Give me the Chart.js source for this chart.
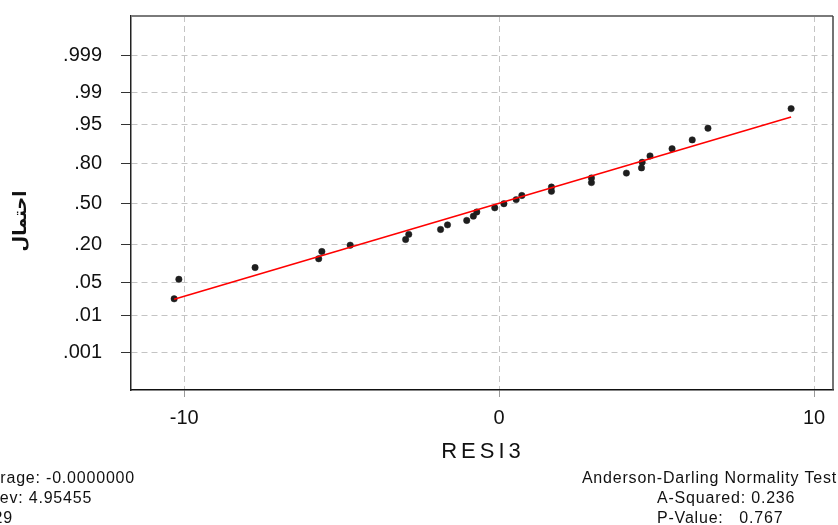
<!DOCTYPE html>
<html>
<head>
<meta charset="utf-8">
<script src="https://cdn.jsdelivr.net/npm/chart.js@4/dist/chart.umd.min.js"></script>
<style>
  html, body { margin: 0; padding: 0; background: #fff; }
  canvas { display: block; }
</style>
</head>
<body>
<canvas id="myChart" width="838" height="525"></canvas>
<script>
// sorted residuals (RESI3) and their plotting probabilities
const residuals = [-10.32, -10.17, -7.75, -5.73, -5.63, -4.73, -2.97, -2.87, -1.86, -1.64,
  -1.03, -0.82, -0.71, -0.14, 0.15, 0.54, 0.72, 1.66, 1.66, 2.93,
  2.93, 4.04, 4.52, 4.54, 4.79, 5.49, 6.13, 6.63, 9.27];
const probabilities = [0.0238, 0.0578, 0.0918, 0.1259, 0.1599, 0.1939, 0.2279, 0.2619, 0.2959, 0.3299,
  0.3639, 0.3980, 0.4320, 0.4660, 0.5000, 0.5340, 0.5680, 0.6020, 0.6361, 0.6701,
  0.7041, 0.7381, 0.7721, 0.8061, 0.8401, 0.8741, 0.9082, 0.9422, 0.9762];

// fitted normal line end points
const fitX = [-10.32, 9.27];
const fitProb = [0.0233, 0.9646];

const xTicks = [-10, 0, 10];
const probTicks = [0.001, 0.01, 0.05, 0.20, 0.50, 0.80, 0.95, 0.99, 0.999];
const probLabels = ['.001', '.01', '.05', '.20', '.50', '.80', '.95', '.99', '.999'];

const statsLeft = ['Average: -0.0000000', 'StDev: 4.95455', 'N: 29'];
const statsRight = ['Anderson-Darling Normality Test', 'A-Squared: 0.236', 'P-Value:   0.767'];

// inverse normal cdf (Acklam)
function probit(p) {
  const a = [-39.69683028665376, 220.9460984245205, -275.9285104469687, 138.3577518672690, -30.66479806614716, 2.506628277459239];
  const b = [-54.47609879822406, 161.5858368580409, -155.6989798598866, 66.80131188771972, -13.28068155288572];
  const c = [-0.007784894002430293, -0.3223964580411365, -2.400758277161838, -2.549732539343734, 4.374664141464968, 2.938163982698783];
  const d = [0.007784695709041462, 0.3224671290700398, 2.445134137142996, 3.754408661907416];
  const pl = 0.02425;
  let q, r;
  if (p < pl) {
    q = Math.sqrt(-2 * Math.log(p));
    return (((((c[0]*q+c[1])*q+c[2])*q+c[3])*q+c[4])*q+c[5]) / ((((d[0]*q+d[1])*q+d[2])*q+d[3])*q+1);
  }
  if (p > 1 - pl) {
    q = Math.sqrt(-2 * Math.log(1 - p));
    return -(((((c[0]*q+c[1])*q+c[2])*q+c[3])*q+c[4])*q+c[5]) / ((((d[0]*q+d[1])*q+d[2])*q+d[3])*q+1);
  }
  q = p - 0.5; r = q * q;
  return (((((a[0]*r+a[1])*r+a[2])*r+a[3])*r+a[4])*r+a[5])*q / (((((b[0]*r+b[1])*r+b[2])*r+b[3])*r+b[4])*r+1);
}

const pointData = residuals.map((x, i) => ({ x: x, y: probit(probabilities[i]) }));
const lineData = fitX.map((x, i) => ({ x: x, y: probit(fitProb[i]) }));
const tickFont = { family: "'Liberation Sans', Arial, sans-serif", size: 20 };

const extras = {
  id: 'extras',
  afterDraw(chart) {
    const ctx = chart.ctx;
    const a = chart.chartArea;
    ctx.save();
    // top and right frame
    ctx.strokeStyle = '#7a7a7a';
    ctx.lineWidth = 2;
    ctx.beginPath();
    ctx.moveTo(a.left, a.top);
    ctx.lineTo(a.right, a.top);
    ctx.stroke();
    ctx.strokeStyle = '#444';
    ctx.lineWidth = 1.5;
    ctx.beginPath();
    ctx.moveTo(a.right, a.top);
    ctx.lineTo(a.right, a.bottom);
    ctx.stroke();

    ctx.fillStyle = '#111';
    // x title
    ctx.font = "22px 'Liberation Sans', Arial, sans-serif";
    ctx.letterSpacing = '4px';
    ctx.textAlign = 'left';
    ctx.textBaseline = 'alphabetic';
    const w = ctx.measureText('RESI3').width - 4;
    ctx.fillText('RESI3', 481 - w / 2, 458);

    // y title
    ctx.letterSpacing = '0px';
    ctx.save();
    ctx.translate(21, 221);
    ctx.rotate(-Math.PI / 2);
    ctx.font = "bold 18px 'DejaVu Sans', sans-serif";
    ctx.textAlign = 'center';
    ctx.textBaseline = 'middle';
    ctx.fillText('احتمال', 0, 0);
    ctx.restore();

    // stats text
    ctx.font = "16px 'Liberation Sans', Arial, sans-serif";
    ctx.letterSpacing = '0.8px';
    const x0 = 135 - ctx.measureText(statsLeft[0]).width;
    statsLeft.forEach((t, i) => ctx.fillText(t, x0, 483 + i * 20));
    ctx.textAlign = 'right';
    ctx.fillText(statsRight[0], 837, 483);
    ctx.textAlign = 'left';
    ctx.fillText(statsRight[1], 657, 503);
    ctx.fillText(statsRight[2], 657, 523);
    ctx.restore();
  }
};

new Chart(document.getElementById('myChart'), {
  type: 'scatter',
  data: {
    datasets: [
      {
        label: 'fit',
        data: lineData,
        showLine: true,
        borderColor: '#ff0000',
        borderWidth: 1.6,
        pointRadius: 0,
        order: 0
      },
      {
        label: 'RESI3',
        data: pointData,
        pointRadius: 3.2,
        pointBackgroundColor: '#1e1e1e',
        pointBorderColor: '#1e1e1e',
        pointBorderWidth: 0.5,
        order: 1
      }
    ]
  },
  options: {
    responsive: false,
    animation: false,
    devicePixelRatio: 1,
    layout: { padding: { left: 0, right: 5, top: 16, bottom: 0 } },
    plugins: {
      legend: { display: false },
      tooltip: { enabled: false }
    },
    scales: {
      x: {
        type: 'linear',
        min: -11.69,
        max: 10.6,
        afterBuildTicks: s => { s.ticks = xTicks.map(v => ({ value: v })); },
        afterFit: s => { s.height = 135; s.paddingLeft = 0; s.paddingRight = 0; },
        ticks: { color: '#111', font: tickFont, padding: 9, maxRotation: 0 },
        grid: { color: '#c4c4c4', tickColor: '#9a9a9a', tickLength: 7, lineWidth: 1 },
        border: { color: '#111', width: 1.5, dash: [6, 4] }
      },
      y: {
        type: 'linear',
        min: -3.88,
        max: 3.91,
        afterBuildTicks: s => { s.ticks = probTicks.map(p => ({ value: probit(p) })); },
        afterFit: s => { s.width = 131; s.paddingTop = 0; s.paddingBottom = 0; },
        ticks: {
          color: '#111',
          font: tickFont,
          padding: 19,
          callback: (v, i) => probLabels[i]
        },
        grid: { color: '#c4c4c4', tickColor: '#333', tickLength: 10, lineWidth: 1 },
        border: { color: '#222', width: 1.5, dash: [6, 4] }
      }
    }
  },
  plugins: [extras]
});
</script>
</body>
</html>
